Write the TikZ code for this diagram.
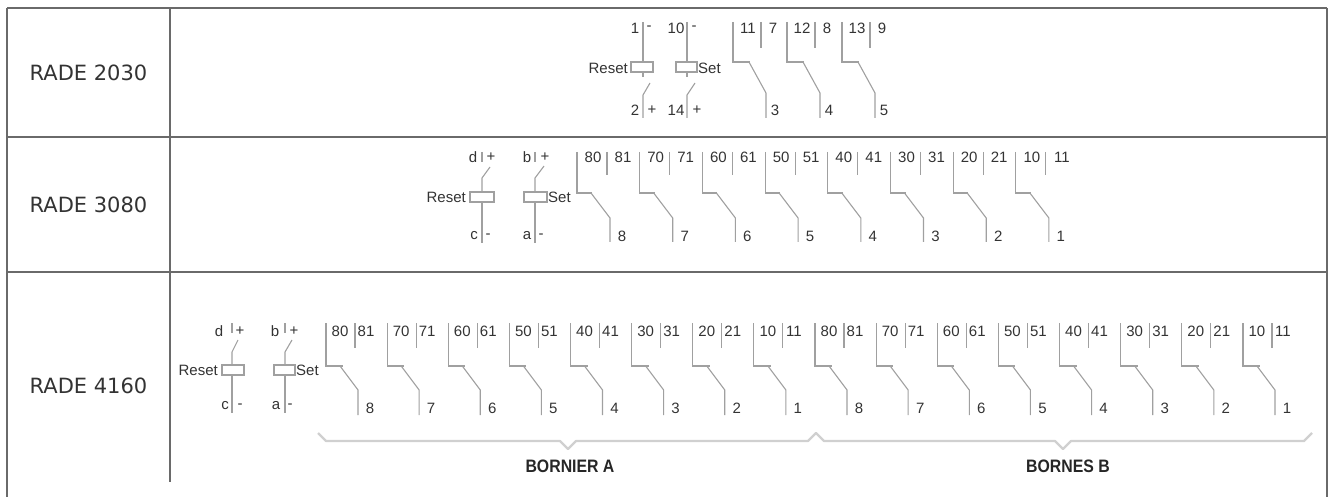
\documentclass[tikz,border=0pt]{standalone}
\usepackage{fontspec}
\setmainfont{Liberation Sans}
\newfontfamily\radefont{DejaVu Sans}
\definecolor{wirec}{HTML}{A0A0A0}
\definecolor{txt}{HTML}{333333}
\definecolor{gridc}{HTML}{6A6A6A}
\definecolor{bracec}{HTML}{D0D0D0}
\tikzset{
  wire/.style={draw=wirec, line width=1.1pt},
  coilbox/.style={draw=wirec, line width=1.1pt},
  lab/.style={text=txt, font=\fontsize{15}{15}\selectfont, inner sep=0pt},
  gridline/.style={draw=gridc, line width=1.3pt},
  bracel/.style={draw=bracec, line width=2.4pt, line join=round},
  radel/.style={text=txt, font=\radefont\fontsize{21}{21}\selectfont, inner sep=0pt},
  bornl/.style={text=black!85, font=\bfseries\fontsize{18}{18}\selectfont, inner sep=0pt, xscale=0.88}
}
% contact group: x0, NC label, NO label, common label, name
\newcommand\cgrp[5]{%
  \draw[wire] (#1,\yT) -- (#1,\yH) -- ({#1+\hx},\yH);
  \draw[wire] ({#1+\nox},\yT) -- ({#1+\nox},\yNO);
  \draw[wire] ({#1+\btx},\yH) -- ({#1+\bbx},\yB) -- ({#1+\bbx},\yE);
  \node[lab] (#5nc) at ({#1+\ncl},\yL) {#2};
  \node[lab] (#5no) at ({#1+\nol},\yL) {#3};
  \node[lab] (#5cm) at ({#1+\cml},\yBL) {#4};
}
\begin{document}
\begin{tikzpicture}[x=1pt,y=-1pt]
\useasboundingbox (0,0) rectangle (1331,497);
% ---------- table ----------
\coordinate (TL) at (7,8);   \coordinate (TR) at (1327,8);
\coordinate (AL) at (7,137); \coordinate (AR) at (1327,137);
\coordinate (BL) at (7,272); \coordinate (BR) at (1327,272);
\coordinate (LL) at (7,497); \coordinate (RL) at (1327,497);
\coordinate (CT) at (170,8); \coordinate (CB) at (170,482);
\draw[gridline] (TL) -- (TR);
\draw[gridline] (AL) -- (AR);
\draw[gridline] (BL) -- (BR);
\draw[gridline] (TL) -- (LL);
\draw[gridline] (TR) -- (RL);
\draw[gridline] (CT) -- (CB);
\node[radel] (t1) at (88.5,73) {RADE 2030};
\node[radel] (t2) at (88.5,205) {RADE 3080};
\node[radel] (t3) at (88.5,386) {RADE 4160};

% ---------- row 1 : RADE 2030 ----------
% Reset coil
\draw[wire] (643,22) -- (643,62);
\draw[coilbox] (631,62) rectangle (653,72);
\draw[wire] (643,72) -- (643,77);
\draw[wire] (650,83) -- (643,95) -- (643,118);
\node[lab] (r1a) at (635,28) {1};
\node[lab] (r1b) at (649,28) {-};
\node[lab] (r1c) at (635,110) {2};
\node[lab] (r1d) at (652,110) {+};
\node[lab, anchor=east] (r1r) at (628,68) {Reset};
% Set coil
\draw[wire] (687,22) -- (687,62);
\draw[coilbox] (676,62) rectangle (697,72);
\draw[wire] (687,72) -- (687,77);
\draw[wire] (695,83) -- (687,95) -- (687,118);
\node[lab] (r1e) at (676,28) {10};
\node[lab] (r1f) at (694,28) {-};
\node[lab] (r1g) at (676,110) {14};
\node[lab] (r1h) at (697,110) {+};
\node[lab, anchor=west] (r1s) at (698,68) {Set};
% contacts
\def\yT{22}\def\yL{28}\def\yNO{48}\def\yH{62}\def\yB{93}\def\yE{118}\def\yBL{110}
\def\hx{17}\def\nox{28}\def\btx{16}\def\bbx{33}\def\ncl{15}\def\nol{40}\def\cml{42}
\cgrp{733}{11}{7}{3}{ra}
\cgrp{787}{12}{8}{4}{rb}
\cgrp{842}{13}{9}{5}{rc}

% ---------- row 2 : RADE 3080 ----------
\draw[wire] (482,152) -- (482,162);
\draw[wire] (490,167) -- (482,178) -- (482,192);
\draw[coilbox] (470,192) rectangle (494,202);
\draw[wire] (482,202) -- (482,243);
\node[lab] (r2a) at (473,157) {d};
\node[lab] (r2b) at (491,157) {+};
\node[lab] (r2c) at (474,236) {c};
\node[lab] (r2d) at (488,236) {-};
\node[lab, anchor=east] (r2r) at (466,197) {Reset};
\draw[wire] (535,152) -- (535,162);
\draw[wire] (544,166) -- (535,178) -- (535,192);
\draw[coilbox] (524,192) rectangle (547,202);
\draw[wire] (535,202) -- (535,243);
\node[lab] (r2e) at (527,157) {b};
\node[lab] (r2f) at (545,157) {+};
\node[lab] (r2g) at (527,236) {a};
\node[lab] (r2h) at (541,236) {-};
\node[lab, anchor=west] (r2s) at (548,197) {Set};
\def\yT{152}\def\yL{157}\def\yNO{175}\def\yH{193}\def\yB{218}\def\yE{242}\def\yBL{236}
\def\hx{15}\def\nox{30}\def\btx{14}\def\bbx{33}\def\ncl{16}\def\nol{46}\def\cml{45}
\foreach \i in {0,...,7}{%
  \pgfmathsetmacro\xx{577+62.7*\i}%
  \pgfmathtruncatemacro\cm{8-\i}%
  \pgfmathtruncatemacro\nc{10*\cm}%
  \pgfmathtruncatemacro\no{10*\cm+1}%
  \cgrp{\xx}{\nc}{\no}{\cm}{s\i}%
}

% ---------- row 3 : RADE 4160 ----------
\draw[wire] (232,323) -- (232,333);
\draw[wire] (238,340) -- (232,352) -- (232,365);
\draw[coilbox] (222,365) rectangle (244,375);
\draw[wire] (232,375) -- (232,413);
\node[lab] (r3a) at (219,331) {d};
\node[lab] (r3b) at (240,331) {+};
\node[lab] (r3c) at (225,406) {c};
\node[lab] (r3d) at (240,406) {-};
\node[lab, anchor=east] (r3r) at (218,370) {Reset};
\draw[wire] (285,323) -- (285,333);
\draw[wire] (292,340) -- (285,352) -- (285,365);
\draw[coilbox] (274,365) rectangle (295,375);
\draw[wire] (285,375) -- (285,413);
\node[lab] (r3e) at (275,331) {b};
\node[lab] (r3f) at (294,331) {+};
\node[lab] (r3g) at (276,406) {a};
\node[lab] (r3h) at (290,406) {-};
\node[lab, anchor=west] (r3s) at (296,370) {Set};
\def\yT{323}\def\yL{331}\def\yNO{348}\def\yH{366}\def\yB{390}\def\yE{415}\def\yBL{408}
\def\hx{17}\def\nox{29}\def\btx{14}\def\bbx{32}\def\ncl{14}\def\nol{40}\def\cml{44}
\foreach \i in {0,...,15}{%
  \pgfmathsetmacro\xx{326+61.13*\i}%
  \pgfmathtruncatemacro\cm{8-mod(\i,8)}%
  \pgfmathtruncatemacro\nc{10*\cm}%
  \pgfmathtruncatemacro\no{10*\cm+1}%
  \cgrp{\xx}{\nc}{\no}{\cm}{u\i}%
}
% braces
\coordinate (bA0) at (318,433); \coordinate (bAm) at (568,449);
\coordinate (bAB) at (816,433); \coordinate (bBm) at (1063,449);
\coordinate (bB1) at (1312,433);
\draw[bracel] (bA0) -- (326,441) -- (560,441) -- (bAm) -- (576,441) -- (808,441) -- (bAB)
  -- (824,441) -- (1055,441) -- (bBm) -- (1071,441) -- (1304,441) -- (bB1);
\node[bornl] (bornA) at (570,466) {BORNIER A};
\node[bornl] (bornB) at (1068,466) {BORNES B};
\end{tikzpicture}
\end{document}
